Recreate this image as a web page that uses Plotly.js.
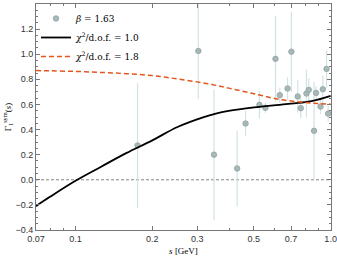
<!DOCTYPE html>
<html><head><meta charset="utf-8">
<script src="https://cdn.plot.ly/plotly-3.0.1.min.js"></script>
<style>html,body{margin:0;padding:0;background:#fff}#chart{width:337px;height:259px}</style>
</head><body><div id="chart"></div>
<script>
// measured data points
const sData = [0.175, 0.303, 0.349, 0.430, 0.464, 0.526, 0.555, 0.608, 0.632, 0.678, 0.702, 0.743, 0.764, 0.804, 0.821, 0.861, 0.877, 0.913, 0.932, 0.964, 0.978];
const gammaData = [0.273, 1.026, 0.20, 0.09, 0.448, 0.597, 0.573, 0.963, 0.674, 0.727, 1.02, 0.663, 0.57, 0.687, 0.716, 0.39, 0.692, 0.583, 0.721, 0.883, 0.527];
const gammaErr = [0.50, 0.38, 0.52, 0.30, 0.10, 0.11, 0.04, 0.34, 0.06, 0.09, 0.32, 0.13, 0.08, 0.19, 0.09, 0.39, 0.05, 0.06, 0.11, 0.15, 0.06];
// fit curves
const sFit = [0.07, 0.0794, 0.1, 0.126, 0.158, 0.2, 0.251, 0.316, 0.355, 0.398, 0.501, 0.631, 0.794, 0.891, 1.0];
const fitChi10 = [-0.21, -0.136, -0.008, 0.104, 0.212, 0.314, 0.42, 0.497, 0.527, 0.548, 0.576, 0.597, 0.618, 0.638, 0.668];
const fitChi18 = [0.870, 0.868, 0.863, 0.855, 0.845, 0.830, 0.803, 0.772, 0.752, 0.730, 0.685, 0.640, 0.615, 0.607, 0.603];
// axis ticks
const xTickVals = [0.07, 0.1, 0.2, 0.3, 0.5, 0.7, 1.0];
const xTickText = ['0.07', '0.1', '0.2', '0.3', '0.5', '0.7', '1.0'];
const xMinorVals = [0.08, 0.09, 0.4, 0.6, 0.8, 0.9];
const legendNames = ['<i>β</i> = 1.63', '<i>χ</i><sup>2</sup>/d.o.f. = 1.0', '<i>χ</i><sup>2</sup>/d.o.f. = 1.8'];

const traces = [
  {x: sData, y: gammaData, type: 'scatter', mode: 'markers', name: legendNames[0],
   marker: {size: 5.5, color: '#a6b8b8', line: {color: '#8fa2a2', width: 0.8}},
   error_y: {type: 'data', array: gammaErr, visible: true, color: '#d3e2e2', thickness: 1.2, width: 0}},
  {x: sFit, y: fitChi10, type: 'scatter', mode: 'lines', name: legendNames[1],
   line: {color: '#000', width: 1.8, shape: 'spline', smoothing: 1}},
  {x: sFit, y: fitChi18, type: 'scatter', mode: 'lines', name: legendNames[2],
   line: {color: '#e4561e', width: 1.5, dash: '5px,3px', shape: 'spline', smoothing: 1}}
];

const axisCommon = {showgrid: false, zeroline: false, showline: true, linecolor: '#777', linewidth: 1,
  mirror: 'ticks', ticks: 'inside', ticklen: 4, tickcolor: '#777',
  tickfont: {family: 'Liberation Sans, Arial', size: 9, color: '#333'}};

const layout = {
  width: 337, height: 259,
  margin: {l: 36, r: 6, t: 4, b: 29},
  paper_bgcolor: '#fff', plot_bgcolor: '#fff',
  showlegend: true,
  legend: {x: 0.0, y: 1.0, xanchor: 'left', yanchor: 'top', bgcolor: 'rgba(0,0,0,0)',
    font: {family: 'DejaVu Serif, Liberation Serif', size: 9, color: '#000'},
    itemwidth: 30, tracegroupgap: 0},
  xaxis: Object.assign({}, axisCommon, {type: 'log', range: [Math.log10(0.07), 0.0015],
    tickmode: 'array', tickvals: xTickVals, ticktext: xTickText,
    minor: {tickmode: 'array', tickvals: xMinorVals, ticks: 'inside', ticklen: 2, tickcolor: '#777'},
    title: {text: '<i>s</i> [GeV]', font: {family: 'Liberation Serif', size: 9, color: '#000'}, standoff: 4}}),
  yaxis: Object.assign({}, axisCommon, {range: [-0.4, 1.4], tickmode: 'linear', tick0: -0.4, dtick: 0.2,
    tickformat: '.1f',
    minor: {dtick: 0.05, ticks: 'inside', ticklen: 2, tickcolor: '#777'},
    title: {text: 'Γ<sub>1</sub><sup>sym</sup>(<i>s</i>)', font: {family: 'Liberation Serif', size: 9, color: '#000'}, standoff: 2}}),
  shapes: [{type: 'line', xref: 'paper', x0: 0, x1: 1, yref: 'y', y0: 0, y1: 0,
    line: {color: '#666', width: 0.8, dash: '3px,2px'}, layer: 'below'}]
};

Plotly.newPlot('chart', traces, layout, {staticPlot: true, displayModeBar: false});
</script></body></html>
